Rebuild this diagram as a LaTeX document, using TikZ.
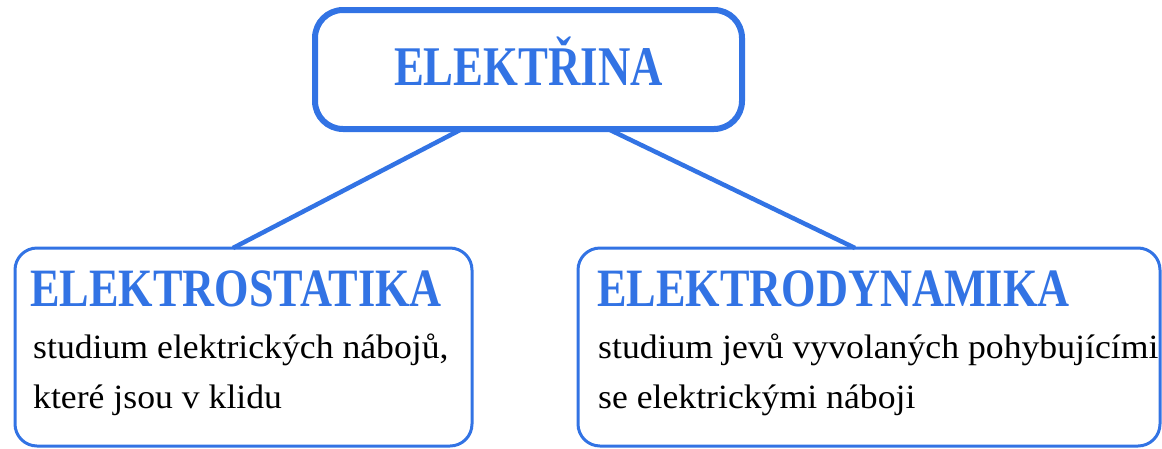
\documentclass[tikz,border=0pt]{standalone}
\usepackage{fontspec}
\setmainfont{Liberation Serif}
\newfontfamily\topfont[FakeStretch=0.8]{Liberation Serif Bold}
\newfontfamily\headfont[FakeStretch=0.82]{Liberation Serif Bold}
\newfontfamily\bodyfont[FakeStretch=1.05]{Liberation Serif}
\usetikzlibrary{calc}
\definecolor{eblue}{RGB}{50,115,228}
\tikzset{
  topbox/.style={draw=eblue, line width=6pt, rounded corners=28pt, minimum width=427pt, minimum height=119pt, inner sep=0pt, outer sep=0pt},
  lowbox/.style={draw=eblue, line width=3pt, rounded corners=22pt, minimum height=198pt, inner sep=0pt, outer sep=0pt},
  link/.style={draw=eblue, line width=4.5pt},
  headtxt/.style={text=eblue, inner sep=0pt, font=\headfont\fontsize{54}{60}\selectfont},
  bodytxt/.style={text=black, inner sep=0pt, anchor=base west, font=\bodyfont\fontsize{34}{40}\selectfont},
}
\begin{document}
\begin{tikzpicture}[x=1pt,y=-1pt]
\useasboundingbox (0,0) rectangle (1162,448);
\node[topbox] (top) at (528.5,69.5) {};
\node[lowbox, minimum width=457pt] (left) at (243.5,347) {};
\node[lowbox, minimum width=582pt] (right) at (869,347) {};
\draw[link] ($(top.south)+(-66.5,0)$) -- ($(left.north)+(-10.5,0)$);
\draw[link] ($(top.south)+(79.5,0)$) -- ($(right.north)+(-14,0)$);
\node[headtxt, anchor=base, font=\topfont\fontsize{56}{60}\selectfont] (t0) at (528.5,85) {ELEKTŘINA};
\node[headtxt, anchor=base west] (t1) at (30,306) {ELEKTROSTATIKA};
\node[headtxt, anchor=base west] (t2) at (597,306) {ELEKTRODYNAMIKA};
\node[bodytxt] (b1) at (33,358) {studium elektrických nábojů,};
\node[bodytxt] (b2) at (33,408) {které jsou v klidu};
\node[bodytxt] (b3) at (598,358) {studium jevů vyvolaných pohybujícími};
\node[bodytxt] (b4) at (598,408) {se elektrickými náboji};
\end{tikzpicture}
\end{document}
